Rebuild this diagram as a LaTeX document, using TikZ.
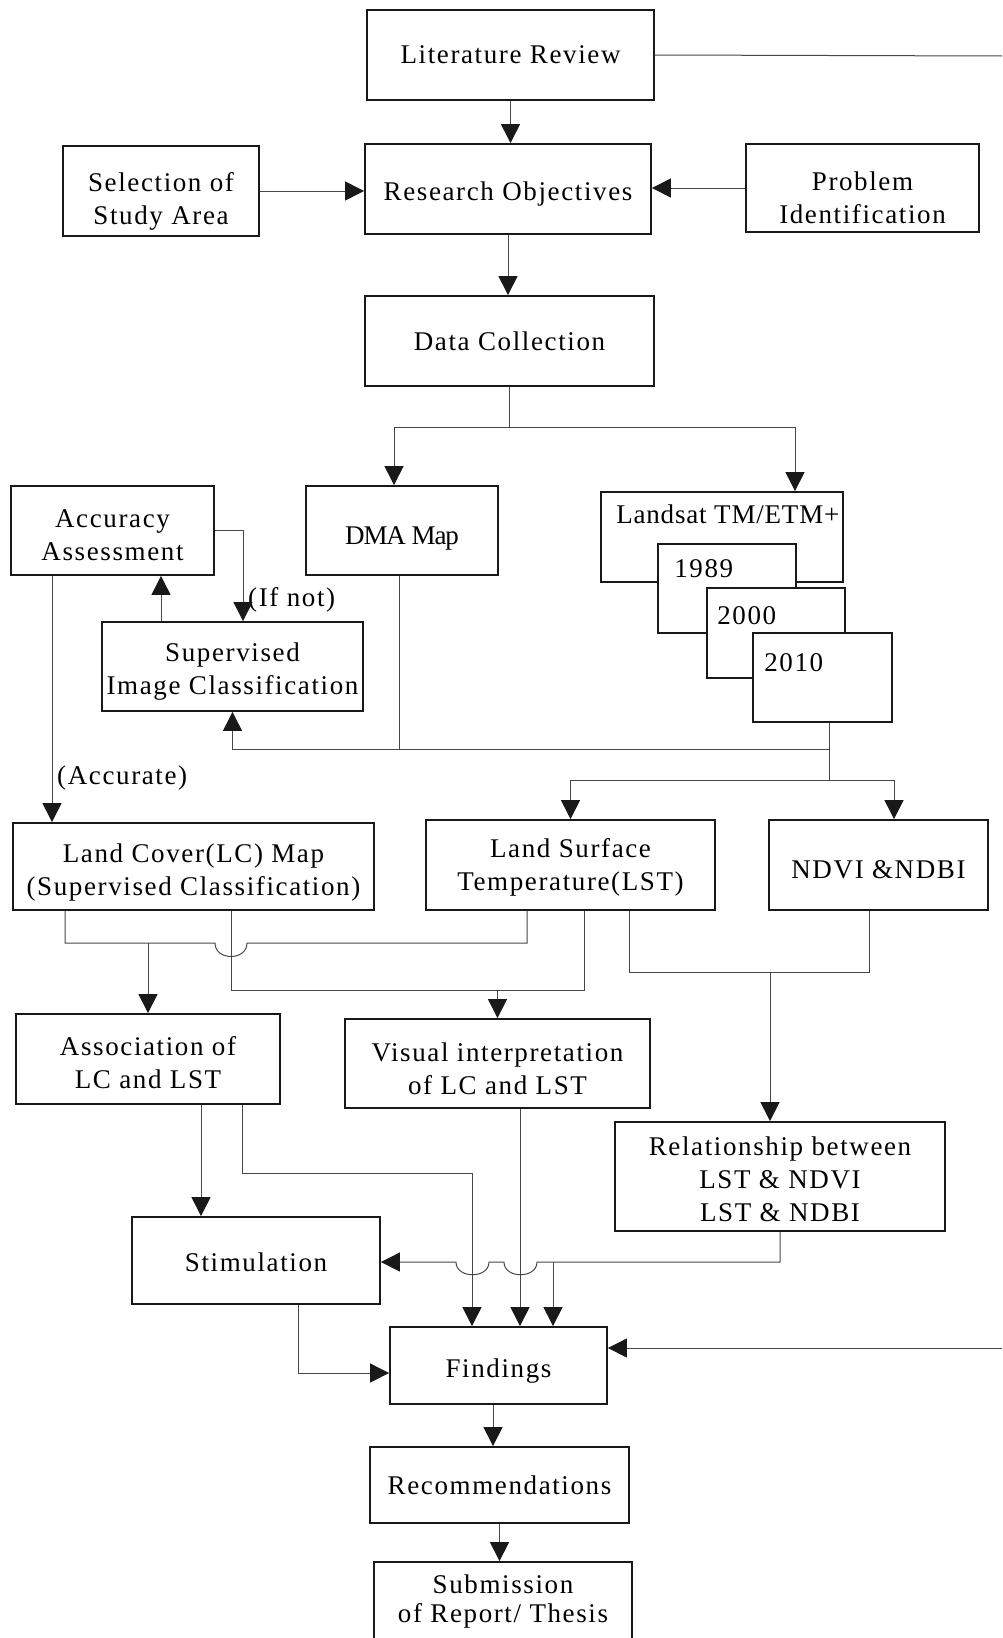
\documentclass[tikz,border=0pt]{standalone}
\usepackage{fontspec}
\setmainfont{Liberation Serif}[LetterSpace=6]
\newfontfamily\tightfont{Liberation Serif}[LetterSpace=-4]
\newfontfamily\midfont{Liberation Serif}[LetterSpace=3]
\newcommand{\lowered}[1]{\rule{0pt}{#1}}
\usetikzlibrary{arrows.meta}
\tikzstyle{yearbox} = [draw=black!90, line width=1.8pt, fill=white, inner sep=0pt]
\tikzstyle{stagebox} = [yearbox, text centered, align=center, font=\fontsize{27}{33}\selectfont]
\tikzstyle{yeartext} = [anchor=north west, inner sep=0pt, font=\fontsize{27}{33}\selectfont]
\tikzstyle{flowlabel} = [inner sep=0pt, font=\fontsize{27}{33}\selectfont]
\tikzstyle{flowline} = [line width=1pt, draw=black!72]
\tikzstyle{flowarrow} = [flowline, -{Triangle[width=19pt,length=19pt,color=black!90]}]

\begin{document}
\begin{tikzpicture}[x=1pt,y=-1pt]
		\path [use as bounding box, fill=white] (0,0) rectangle (1002,1638);
		\clip (0,0) rectangle (1002,1638);
		\node (lit) [stagebox, minimum width=287, minimum height=90] at (510.5,55) {Literature Review};
		\node (select) [stagebox, minimum width=196, minimum height=90] at (161,191) {\lowered{40pt}Selection of\\Study Area};
		\node (research) [stagebox, minimum width=286, minimum height=90] at (508,189) {\lowered{28pt}Research Objectives};
		\node (problem) [stagebox, minimum width=233, minimum height=88] at (862.5,188) {\lowered{38pt}Problem\\Identification};
		\node (data) [stagebox, minimum width=289, minimum height=90] at (509.5,341) {Data Collection};
		\node (acc) [stagebox, minimum width=203, minimum height=89] at (112.5,530.5) {\lowered{28pt}Accuracy\\Assessment};
		\node (dma) [stagebox, minimum width=192, minimum height=89] at (402,530.5) {\lowered{33pt}{\tightfont DMA Map}};
		\node (sic) [stagebox, minimum width=261, minimum height=89] at (232.5,666.5) {\lowered{29pt}Supervised\\Image Classification};
		\node (tm) [yearbox, minimum width=242, minimum height=90, label={[yeartext, xshift=16pt, yshift=-13pt]north west:{\midfont Landsat TM/ETM+}}] at (722,537) {};
		\node (y1989) [yearbox, minimum width=138, minimum height=89, label={[yeartext, xshift=17pt, yshift=-16pt]north west:1989}] at (727,588.5) {};
		\node (y2000) [yearbox, minimum width=138, minimum height=90, label={[yeartext, xshift=11pt, yshift=-19pt]north west:2000}] at (776,633) {};
		\node (y2010) [yearbox, minimum width=139, minimum height=89, label={[yeartext, xshift=12pt, yshift=-21pt]north west:2010}] at (822.5,677.5) {};
		\node (lc) [stagebox, minimum width=361, minimum height=87] at (193.5,866.5) {\lowered{30pt}Land Cover(LC) Map\\(Supervised Classification)};
		\node (lst) [stagebox, minimum width=289, minimum height=90] at (570.5,865) {\lowered{24pt}Land Surface\\Temperature(LST)};
		\node (ndvi) [stagebox, minimum width=219, minimum height=90] at (878.5,865) {\lowered{28pt}NDVI \&NDBI};
		\node (ass) [stagebox, minimum width=264, minimum height=90] at (148,1059) {\lowered{27pt}Association of\\LC and LST};
		\node (vis) [stagebox, minimum width=305, minimum height=89] at (497.5,1063.5) {\lowered{30pt}Visual interpretation\\of LC and LST};
		\node (rel) [stagebox, minimum width=330, minimum height=109] at (780,1176.5) {\lowered{24pt}Relationship between\\LST \& NDVI\\LST \& NDBI};
		\node (stim) [stagebox, minimum width=248, minimum height=87] at (256,1260.5) {\lowered{22pt}Stimulation};
		\node (find) [stagebox, minimum width=217, minimum height=77] at (498.5,1365.5) {\lowered{30pt}Findings};
		\node (rec) [stagebox, minimum width=259, minimum height=76] at (499.5,1485) {Recommendations};
		\node (submit) [stagebox, font=\fontsize{27}{29}\selectfont, minimum width=258, minimum height=78] at (503,1601) {Submission\\of Report/ Thesis};
		\node (ifnot) [flowlabel, anchor=west] at (248,600) {(If not)};
		\node (accurate) [flowlabel, anchor=west] at (57,778) {(Accurate)};
		\coordinate (litend) at (1002,56);
		\coordinate (findend) at (1002,1348);
		\coordinate (datasplit) at (509,427);
		\coordinate (tmjoin) at (829,749);
		\coordinate (tmsplit) at (829,780);
		\coordinate (lcjoin) at (148,943);
		\coordinate (vijoin) at (497.5,990);
		\coordinate (reljoin) at (770,972);
		\coordinate (findjoin) at (553,1262);
		\draw [flowarrow] (lit.south) -- (lit.south |- research.north);
		\draw [flowline] (lit.east) -- (litend);
		\draw [flowarrow] (select.east) -- (select.east -| research.west);
		\draw [flowarrow] (problem.west) -- (problem.west -| research.east);
		\draw [flowarrow] (research.south) -- (research.south |- data.north);
		\draw [flowline] (datasplit |- data.south) -- (datasplit);
		\draw [flowarrow] (datasplit) -| ([xshift=-8]dma.north);
		\draw [flowarrow] (datasplit) -| ([xshift=73]tm.north);
		\draw [flowarrow] ([xshift=-71.5]sic.north) -- ([xshift=-71.5]sic.north |- acc.south);
		\draw [flowarrow] (acc.east) -| ([xshift=10.5]sic.north);
		\draw [flowarrow] ([xshift=-60.5]acc.south) -- ([xshift=-60.5]acc.south |- lc.north);
		\draw [flowline] ([xshift=6.5]y2010.south) -- (tmsplit);
		\draw [flowline] ([xshift=-3]dma.south) -- ([xshift=-3]dma.south |- tmjoin);
		\draw [flowarrow] (tmjoin) -| (sic.south);
		\draw [flowarrow] (tmsplit) -| (lst.north);
		\draw [flowarrow] (tmsplit) -| ([xshift=15.5]ndvi.north);
		\draw [flowline] ([xshift=-128.5]lc.south) |- (215,943) .. controls (215,961) and (247,961) .. (247,943) -- ([xshift=-43.5]lst.south |- lcjoin) -- ([xshift=-43.5]lst.south);
		\draw [flowarrow] (lcjoin) -- (lcjoin |- ass.north);
		\draw [flowline] ([xshift=37.5]lc.south) |- ([xshift=13.5]lst.south |- vijoin) -- ([xshift=13.5]lst.south);
		\draw [flowarrow] (vijoin) -- (vis.north);
		\draw [flowline] ([xshift=58.5]lst.south) |- ([xshift=-9.5]ndvi.south |- reljoin) -- ([xshift=-9.5]ndvi.south);
		\draw [flowarrow] (reljoin) -- (reljoin |- rel.north);
		\draw [flowarrow] ([xshift=53]ass.south) -- ([xshift=53]ass.south |- stim.north);
		\draw [flowarrow] ([xshift=94]ass.south) -- ++(0,69) -| ([xshift=-26.5]find.north);
		\draw [flowarrow] ([xshift=22.5]vis.south) -- ([xshift=22.5]vis.south |- find.north);
		\draw [flowarrow] (rel.south) |- (537,1262) .. controls (537,1279) and (504,1279) .. (504,1262) -- (489,1262) .. controls (489,1279) and (456,1279) .. (456,1262) -- (stim.east |- findjoin);
		\draw [flowarrow] (findjoin) -- (findjoin |- find.north);
		\draw [flowarrow] ([xshift=42]stim.south) |- ([yshift=-7.5]find.west);
		\draw [flowarrow] (findend) -- (findend -| find.east);
		\draw [flowarrow] ([xshift=-5.5]find.south) -- ([xshift=-5.5]find.south |- rec.north);
		\draw [flowarrow] (rec.south) -- (rec.south |- submit.north);
	\end{tikzpicture}
\end{document}
